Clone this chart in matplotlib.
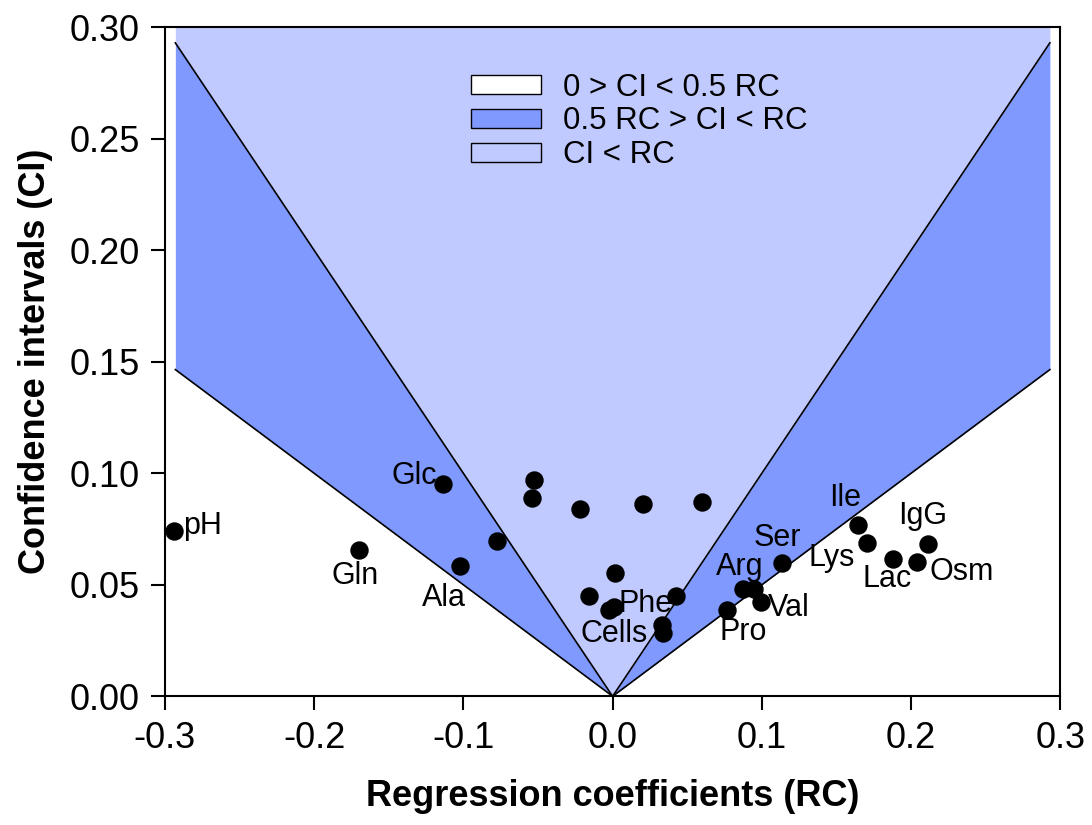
import matplotlib.pyplot as plt
from matplotlib.patches import Patch
import numpy as np

plt.rcParams['font.family'] = ['Liberation Sans', 'DejaVu Sans']

# regression coefficient (RC) and confidence interval (CI) per variable
names = ["pH", "Gln", "Glc", "Ala", "", "", "", "", "", "", "", "",
         "Cells", "Phe", "", "", "", "Pro", "Arg", "", "Val", "Ser",
         "Ile", "Lys", "Lac", "Osm", "IgG"]
rc = [-0.2937, -0.1699, -0.1134, -0.1022, -0.0776, -0.0524, -0.0542, -0.0218,
      0.0202, 0.0602, 0.0017, -0.0155, -0.0023, 0.0010, 0.0424, 0.0330,
      0.0336, 0.0764, 0.0877, 0.0950, 0.0993, 0.1134, 0.1647, 0.1704,
      0.1882, 0.2039, 0.2113]
ci = [0.0740, 0.0655, 0.0954, 0.0584, 0.0696, 0.0972, 0.0891, 0.0839,
      0.0860, 0.0869, 0.0553, 0.0448, 0.0386, 0.0399, 0.0448, 0.0318,
      0.0284, 0.0386, 0.0483, 0.0480, 0.0423, 0.0598, 0.0770, 0.0689,
      0.0617, 0.0602, 0.0682]

# label offsets in pixels and alignment
label_pos = {
    "pH": (9, 5, "left"), "Gln": (-4, -26, "center"), "Glc": (-6, 8, "right"),
    "Ala": (-16, -32, "center"), "Cells": (5, -24, "center"), "Phe": (4, 3, "left"),
    "Pro": (17, -22, "center"), "Arg": (-4, 22, "center"), "Val": (7, -6, "left"),
    "Ser": (-4, 25, "center"), "Ile": (-13, 27, "center"), "Lys": (-12, -15, "right"),
    "Lac": (-6, -20, "center"), "Osm": (13, -10, "left"), "IgG": (-5, 28, "center"),
}

light = "#c0caff"
mid = "#8099ff"
xmax = 0.293

fig = plt.figure(figsize=(10.92, 8.25), dpi=100)
ax = fig.add_axes([0.151, 0.156, 0.820, 0.811])

xs = np.array([-xmax, 0, xmax])
ax.fill_between(xs, np.abs(xs), 0.30, color=light, lw=0, zorder=1)
ax.fill_between(xs, 0.5 * np.abs(xs), np.abs(xs), color=mid, lw=0, zorder=1)
ax.plot(xs, np.abs(xs), color="black", lw=1.2, zorder=2)
ax.plot(xs, 0.5 * np.abs(xs), color="black", lw=1.2, zorder=2)

ax.scatter(rc, ci, s=150, color="black", zorder=3)
for n, x, y in zip(names, rc, ci):
    if n:
        dx, dy, ha = label_pos[n]
        ax.annotate(n, (x, y), xytext=(dx, dy), textcoords="offset pixels",
                    ha=ha, va="center", fontsize=22, zorder=4)

ax.set_xlim(-0.3, 0.3)
ax.set_ylim(0, 0.30)
ax.set_xticks([-0.3, -0.2, -0.1, 0.0, 0.1, 0.2, 0.3])
ax.set_xticklabels(["-0.3", "-0.2", "-0.1", "0.0", "0.1", "0.2", "0.3"])
ax.set_yticks(np.arange(0, 0.31, 0.05))
ax.set_yticklabels([f"{v:.2f}" for v in np.arange(0, 0.31, 0.05)])
ax.tick_params(direction="out", length=10, width=1.5, labelsize=26, pad=8)
for s in ax.spines.values():
    s.set_linewidth(1.5)

ax.set_xlabel("Regression coefficients (RC)", fontsize=26, fontweight="bold", labelpad=16)
ax.set_ylabel("Confidence intervals (CI)", fontsize=26, fontweight="bold", labelpad=12)

handles = [Patch(facecolor="white", edgecolor="black", lw=1),
           Patch(facecolor=mid, edgecolor="black", lw=1),
           Patch(facecolor=light, edgecolor="black", lw=1)]
labels = ["0 > CI < 0.5 RC", "0.5 RC > CI < RC", "CI < RC"]
ax.legend(handles, labels, loc="upper left", bbox_to_anchor=(0.311, 0.974),
          frameon=False, fontsize=22.5, handlelength=2.24, handleheight=0.55,
          labelspacing=0.12, handletextpad=0.7)

fig.savefig("out.png", dpi=100)
